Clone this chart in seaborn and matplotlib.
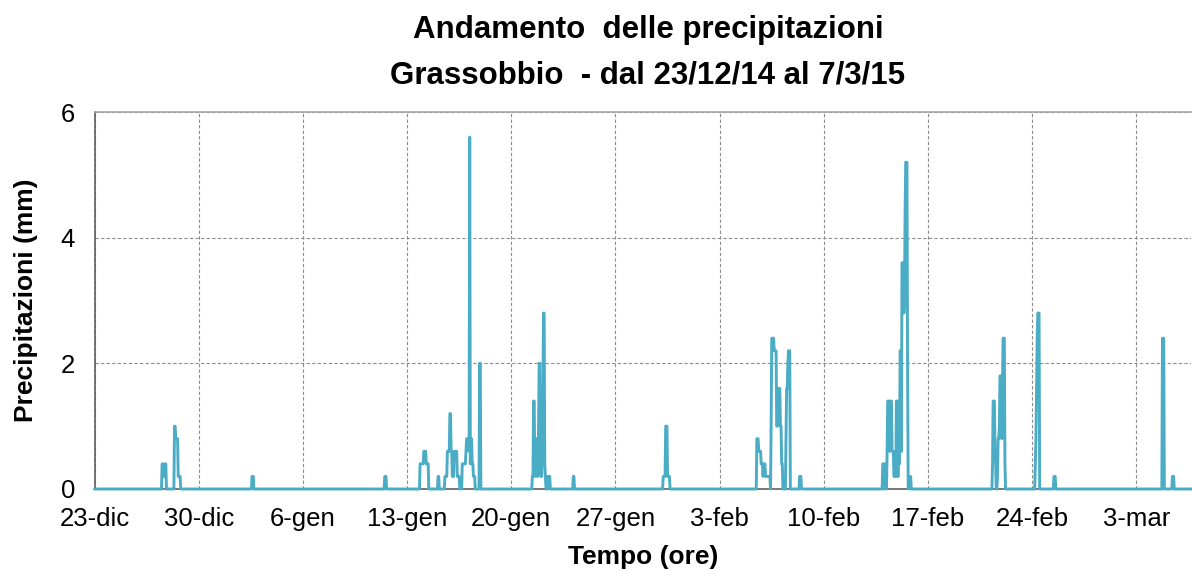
import pandas as pd
import matplotlib
matplotlib.use('Agg')
import matplotlib.pyplot as plt
import matplotlib.dates as mdates
import seaborn as sns

# ---------------------------------------------------------
# Dati: eventi di pioggia (ora di inizio + valori orari in mm)
# ---------------------------------------------------------
event_start = [
    '2014-12-27 13:00', '2014-12-28 09:00', '2015-01-02 14:00', '2015-01-11 12:00',
    '2015-01-13 21:00', '2015-01-15 02:00', '2015-01-15 13:00', '2015-01-16 17:00',
    '2015-01-17 21:00', '2015-01-21 10:00', '2015-01-24 04:00', '2015-01-30 05:00',
    '2015-02-05 12:00', '2015-02-06 11:00', '2015-02-08 09:00', '2015-02-13 23:00',
    '2015-02-21 08:00', '2015-02-24 05:00', '2015-02-25 11:00', '2015-03-04 18:00',
    '2015-03-05 10:00',
]
event_mm = [
    [0.4, 0.4, 0.4, 0.2, 0.2, 0.4, 0.4],
    [1.0, 1.0, 0.8, 0.8, 0.8, 0.8, 0.2, 0.2, 0.2, 0.2],
    [0.2, 0.2, 0.2],
    [0.2, 0.2, 0.2],
    [0.4, 0.4, 0.4, 0.4, 0.4, 0.4, 0.6, 0.6, 0.6, 0.6, 0.4, 0.4, 0.4, 0.4],
    [0.2, 0.2],
    [0.2, 0.2, 0.2, 0.2, 0.6, 0.6, 0.6, 0.6, 1.2, 1.2, 0.6, 0.6, 0.2, 0.2, 0.2,
     0.6, 0.6, 0.6, 0.6, 0.6, 0.2, 0.2, 0.2, 0.2],
    [0.4, 0.4, 0.4, 0.4, 0.4, 0.4, 0.6, 0.8, 0.8, 0.8, 0.8, 0.6, 5.6, 0.4, 0.8,
     0.8, 0.4, 0.4, 0.2, 0.2, 0.2],
    [2.0, 2.0],
    [0.2, 0.2, 1.4, 1.4, 0.2, 0.4, 0.8, 0.8, 0.2, 0.2, 1.0, 2.0, 2.0, 0.4, 0.2,
     0.2, 0.8, 1.6, 2.8, 2.8, 0.4, 0.2, 0.0, 0.0, 0.0, 0.2, 0.2, 0.2, 0.2],
    [0.2, 0.2],
    [0.2, 0.2, 0.2, 0.2, 1.0, 1.0, 1.0, 0.2, 0.2, 0.2, 0.2],
    [0.8, 0.8, 0.8, 0.6, 0.6, 0.6, 0.6, 0.4, 0.4, 0.4, 0.2, 0.4, 0.4, 0.4, 0.2,
     0.2, 0.2, 0.2, 0.2, 0.2, 0.2, 0.2],
    [1.0, 2.4, 2.4, 2.4, 2.4, 2.2, 2.2, 2.2, 2.2, 1.0, 1.0, 1.6, 1.6, 1.6, 1.6,
     1.0, 1.0, 0.4, 0.4, 0.0, 0.0, 0.0, 0.0, 0.0, 0.8, 1.6, 1.6, 2.0, 2.2, 2.2, 2.2],
    [0.2, 0.2, 0.2],
    [0.4, 0.4, 0.4, 0.4, 0.0, 0.0, 0.0, 0.6, 1.4, 1.4, 1.4, 0.6, 1.4, 1.4, 1.4,
     0.6, 0.6, 0.6, 0.2, 0.2, 0.2, 0.2, 1.4, 1.4, 0.2, 0.2, 1.4, 0.4, 2.2, 2.2,
     0.6, 3.6, 3.6, 3.6, 2.8, 3.0, 4.4, 5.2, 5.2, 5.2, 2.0, 0.0, 0.0, 0.2, 0.2, 0.2],
    [0.4, 1.4, 1.4, 1.4, 0.6, 0.4, 0.0, 0.0, 0.2, 0.8, 0.8, 1.0, 1.8, 1.8, 1.8,
     0.8, 1.6, 2.4, 2.4, 2.4, 0.4],
    [0.4, 0.8, 1.6, 2.4, 2.8, 2.8, 2.8],
    [0.2, 0.2, 0.2],
    [2.4, 2.4, 2.4],
    [0.2, 0.2, 0.2],
]

period_start = '2014-12-23 00:00'
period_end = '2015-03-07 00:00'

tick_dates = ['2014-12-23', '2014-12-30', '2015-01-06', '2015-01-13', '2015-01-20',
              '2015-01-27', '2015-02-03', '2015-02-10', '2015-02-17', '2015-02-24',
              '2015-03-03']
tick_labels = ['23-dic', '30-dic', '6-gen', '13-gen', '20-gen', '27-gen', '3-feb',
               '10-feb', '17-feb', '24-feb', '3-mar']
y_ticks = [0, 2, 4, 6]

# ---------------------------------------------------------
# Serie oraria (ore senza pioggia = 0)
# ---------------------------------------------------------
hours = pd.date_range(period_start, period_end, freq='h')
rain = pd.Series(0.0, index=hours)
for start, vals in zip(event_start, event_mm):
    idx = pd.date_range(start, periods=len(vals), freq='h')
    rain.loc[idx] = vals
df = pd.DataFrame({'tempo': hours, 'mm': rain.values})

# ---------------------------------------------------------
# Grafico
# ---------------------------------------------------------
sns.set_style('white')
plt.rcParams['font.family'] = ['Liberation Sans', 'DejaVu Sans']
plt.rcParams['text.color'] = 'black'
plt.rcParams['xtick.labelcolor'] = 'black'
plt.rcParams['ytick.labelcolor'] = 'black'
plt.rcParams['axes.labelcolor'] = 'black'

fig = plt.figure(figsize=(11.92, 5.71), dpi=100)
ax = fig.add_axes([94.5 / 1192, 1 - 489 / 571, (1191 - 94.5) / 1192, (489 - 112) / 571])

sns.lineplot(data=df, x='tempo', y='mm', color='#4bacc6', linewidth=2.1,
             estimator=None, ax=ax, clip_on=False, zorder=3)

ax.set_xlim(pd.Timestamp('2014-12-23 00:00'), pd.Timestamp('2015-03-06 16:00'))
ax.set_ylim(0, 6)
ax.set_yticks(y_ticks)
ax.set_xticks(pd.to_datetime(tick_dates))
ax.set_xticklabels(tick_labels)
ax.xaxis.set_minor_locator(mdates.DayLocator())

ax.grid(True, which='major', linestyle=(0, (3, 2)), color='#8c8c8c', linewidth=0.8)

ax.spines['right'].set_visible(False)
ax.spines['top'].set_color('#a6a6a6')
ax.spines['top'].set_linewidth(1.2)
ax.spines['left'].set_color('#606060')
ax.spines['left'].set_linewidth(1.2)
ax.spines['bottom'].set_color('#606060')
ax.spines['bottom'].set_linewidth(1.2)

ax.tick_params(axis='x', which='major', length=7, width=1, color='#222222',
               direction='out', labelsize=18.5, pad=6)
ax.tick_params(axis='x', which='minor', length=3.5, width=1, color='#222222',
               direction='out')
ax.tick_params(axis='y', which='major', length=5, width=1, color='#606060',
               direction='out', labelsize=18.5, pad=9)

ax.set_xlabel('Tempo (ore)', fontsize=19, fontweight='bold', labelpad=10)
ax.set_ylabel('Precipitazioni (mm)', fontsize=19, fontweight='bold', labelpad=16)

fig.text(648 / 1192, 1 - 30 / 571, 'Andamento  delle precipitazioni', ha='center',
         va='center', fontsize=22.5, fontweight='bold')
fig.text(648 / 1192, 1 - 75 / 571, 'Grassobbio  - dal 23/12/14 al 7/3/15', ha='center',
         va='center', fontsize=22.5, fontweight='bold')

fig.savefig('out.png', dpi=100)
